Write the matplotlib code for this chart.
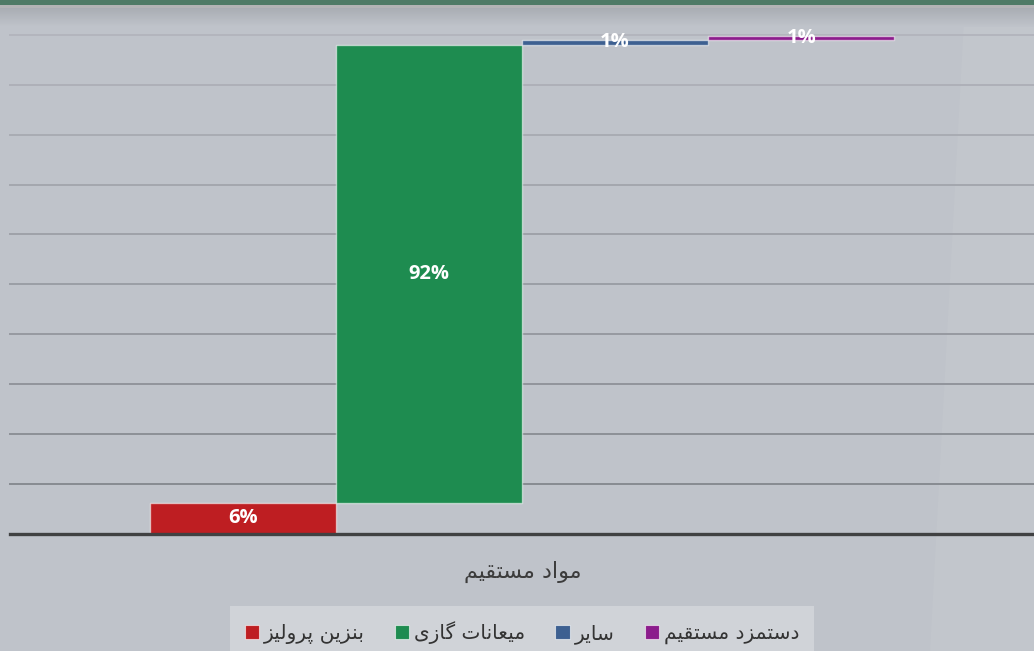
import matplotlib.pyplot as plt
import numpy as np
from matplotlib.patches import Patch, Rectangle, Polygon

# data
series = ['بنزین پرولیز', 'میعانات گازی', 'سایر', 'دستمزد مستقیم']
values = [6.1, 91.9, 1.0, 0.8]
colors = ['#be1e22', '#1e8c50', '#3d6091', '#8c1c8c']
category = 'مواد مستقیم'

# simple arabic/persian shaping (matplotlib has no bidi support)
FORMS = {
    'ا': (0xFE8D, 0xFE8E, None, None),
    'ب': (0xFE8F, 0xFE90, 0xFE91, 0xFE92),
    'ت': (0xFE95, 0xFE96, 0xFE97, 0xFE98),
    'د': (0xFEA9, 0xFEAA, None, None),
    'ر': (0xFEAD, 0xFEAE, None, None),
    'ز': (0xFEAF, 0xFEB0, None, None),
    'س': (0xFEB1, 0xFEB2, 0xFEB3, 0xFEB4),
    'ع': (0xFEC9, 0xFECA, 0xFECB, 0xFECC),
    'ق': (0xFED5, 0xFED6, 0xFED7, 0xFED8),
    'ل': (0xFEDD, 0xFEDE, 0xFEDF, 0xFEE0),
    'م': (0xFEE1, 0xFEE2, 0xFEE3, 0xFEE4),
    'ن': (0xFEE5, 0xFEE6, 0xFEE7, 0xFEE8),
    'و': (0xFEED, 0xFEEE, None, None),
    'پ': (0xFB56, 0xFB57, 0xFB58, 0xFB59),
    'گ': (0xFB92, 0xFB93, 0xFB94, 0xFB95),
    'ی': (0xFBFC, 0xFBFD, 0xFBFE, 0xFBFF),
}

def shape(text):
    out = []
    for i, c in enumerate(text):
        if c not in FORMS:
            out.append(c)
            continue
        f = FORMS[c]
        prev = text[i-1] if i > 0 else None
        nxt = text[i+1] if i + 1 < len(text) else None
        jp = prev in FORMS and FORMS[prev][2] is not None
        jn = f[2] is not None and nxt in FORMS
        if jp and jn:
            k = f[3]
        elif jp:
            k = f[1]
        elif jn:
            k = f[2]
        else:
            k = f[0]
        out.append(chr(k))
    return ''.join(reversed(out))

bg = '#bfc3ca'
fig = plt.figure(figsize=(10.34, 6.51), dpi=100, facecolor=bg)

# top band + faint diagonal sheen
H, W = 651.0, 1034.0
fig.patches.append(Polygon([(965/W, 1), (1.0, 1), (1.0, 0), (930/W, 0)], closed=True,
                           transform=fig.transFigure, facecolor='#c2c6cc', edgecolor='none', zorder=-5))
grad = np.linspace(0, 1, 20)
for i, g in enumerate(grad):
    c = np.array([0.66, 0.675, 0.70]) * (1 - g) + np.array([0.749, 0.765, 0.792]) * g
    fig.patches.append(Rectangle((0, 1 - (8 + i) / H), 1, 1 / H, transform=fig.transFigure,
                                 facecolor=c, edgecolor='none', zorder=-4))
fig.patches.append(Rectangle((0, 1 - 5 / H), 1, 5 / H, transform=fig.transFigure,
                             facecolor='#4f7a66', edgecolor='none', zorder=-3))
fig.patches.append(Rectangle((0, 1 - 8 / H), 1, 3 / H, transform=fig.transFigure,
                             facecolor='#b3b3b5', edgecolor='none', zorder=-3))

ax = fig.add_axes([10/W, (H - 533.5)/H, 1024/W, 498.5/H])
ax.set_facecolor('none')
for s in ax.spines.values():
    s.set_visible(False)

# gridlines, fainter toward the top
for j, yv in enumerate(range(10, 101, 10)):
    t = j / 9
    c = np.array([0.53, 0.545, 0.57]) * (1 - t) + np.array([0.70, 0.71, 0.74]) * t
    ax.axhline(yv, color=c, lw=1.4, zorder=1, clip_on=False)
ax.axhline(0, color='#404142', lw=2.4, zorder=4, clip_on=False)

bottoms = np.concatenate([[0], np.cumsum(values)[:-1]])
x = np.arange(len(values))
ax.bar(x, values, width=1.0, bottom=bottoms, color=colors,
       edgecolor=(1, 1, 1, 0.55), linewidth=1.0, zorder=3)

for xi, b, v in zip(x, bottoms, values):
    ax.text(xi, b + v / 2, '{:.0f}%'.format(v), ha='center', va='center',
            color='white', fontsize=14.5, fontweight='bold', family='Open Sans', zorder=5)

ax.set_xlim(-1.25, 4.25)
ax.set_ylim(0, 100)
ax.set_xticks([])
ax.set_yticks([])

fig.text(523/W, (H - 572)/H, shape(category), ha='center', va='center',
         fontsize=16, color='#3c3c3c', family='DejaVu Sans')

handles = [Patch(facecolor=c, edgecolor=(1, 1, 1, 0.6), linewidth=0.8) for c in colors]
leg = fig.legend(handles, [shape(s) for s in series], loc='upper center',
                 bbox_to_anchor=(522/W, (H - 606)/H), ncol=4, frameon=True,
                 fancybox=False, handlelength=0.7, handleheight=0.7,
                 handletextpad=0.25, columnspacing=1.5, borderpad=0.75,
                 borderaxespad=0,
                 prop={'family': 'DejaVu Sans', 'size': 14.5})
leg.get_frame().set_facecolor('#d0d3d8')
leg.get_frame().set_edgecolor('none')
leg.get_frame().set_alpha(1)
for t in leg.get_texts():
    t.set_color('#333333')

fig.savefig('out.png', dpi=100, facecolor=bg)
